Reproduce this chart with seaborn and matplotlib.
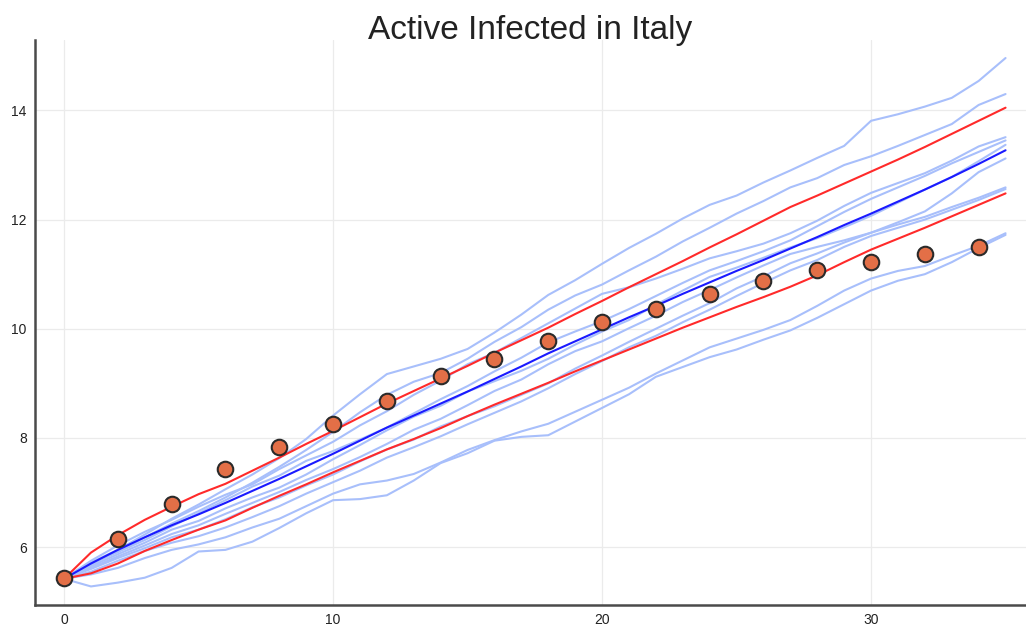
import matplotlib
matplotlib.use("Agg")
import matplotlib.pyplot as plt
import pandas as pd
import seaborn as sns

# Time axis (days) for the simulated trajectories and the model summary curves
days = list(range(36))

# Observed active infections (log scale) every second day
obs_days = list(range(0, 36, 2))
observed = [5.43, 6.15, 6.79, 7.43, 7.83, 8.25, 8.67, 9.13, 9.44, 9.77,
            10.12, 10.36, 10.63, 10.87, 11.07, 11.22, 11.37, 11.49]

# Ensemble mean and the upper / lower envelope
mean_curve = [5.42, 5.70, 5.95, 6.18, 6.40, 6.60, 6.81, 7.03, 7.25, 7.48,
              7.71, 7.95, 8.19, 8.41, 8.63, 8.85, 9.08, 9.31, 9.55, 9.77,
              9.99, 10.21, 10.42, 10.64, 10.85, 11.06, 11.26, 11.47, 11.68, 11.90,
              12.11, 12.33, 12.55, 12.78, 13.02, 13.27]
upper_curve = [5.42, 5.90, 6.22, 6.50, 6.74, 6.97, 7.16, 7.40, 7.64, 7.89,
               8.13, 8.38, 8.63, 8.86, 9.09, 9.32, 9.56, 9.79, 10.02, 10.27,
               10.51, 10.76, 11.00, 11.24, 11.49, 11.73, 11.98, 12.23, 12.44, 12.66,
               12.88, 13.10, 13.33, 13.57, 13.81, 14.05]
lower_curve = [5.42, 5.52, 5.70, 5.93, 6.13, 6.32, 6.49, 6.72, 6.94, 7.15,
               7.37, 7.58, 7.79, 7.98, 8.18, 8.40, 8.61, 8.81, 9.01, 9.22,
               9.42, 9.62, 9.82, 10.02, 10.21, 10.40, 10.58, 10.77, 10.98, 11.22,
               11.45, 11.65, 11.85, 12.06, 12.27, 12.48]

# Individual simulated trajectories
run_1 = [5.42, 5.72, 5.95, 6.23, 6.52, 6.78, 7.06, 7.33, 7.63, 7.98,
         8.41, 8.80, 9.17, 9.31, 9.45, 9.63, 9.93, 10.26, 10.62, 10.89,
         11.19, 11.48, 11.74, 12.02, 12.27, 12.44, 12.68, 12.90, 13.13, 13.35,
         13.81, 13.93, 14.07, 14.23, 14.54, 14.96]
run_2 = [5.42, 5.68, 5.92, 6.18, 6.43, 6.66, 6.91, 7.18, 7.47, 7.78,
         8.11, 8.47, 8.79, 9.03, 9.19, 9.45, 9.76, 10.03, 10.35, 10.61,
         10.81, 11.07, 11.32, 11.60, 11.85, 12.11, 12.34, 12.59, 12.76, 13.00,
         13.16, 13.35, 13.55, 13.75, 14.10, 14.30]
run_3 = [5.42, 5.75, 6.03, 6.28, 6.50, 6.74, 6.96, 7.15, 7.43, 7.68,
         7.93, 8.23, 8.49, 8.79, 9.05, 9.35, 9.56, 9.83, 10.10, 10.37,
         10.64, 10.76, 10.92, 11.10, 11.29, 11.42, 11.56, 11.75, 11.98, 12.25,
         12.49, 12.67, 12.85, 13.08, 13.34, 13.51]
run_4 = [5.42, 5.70, 5.91, 6.13, 6.38, 6.62, 6.86, 7.11, 7.31, 7.58,
         7.76, 7.97, 8.19, 8.45, 8.71, 8.95, 9.22, 9.47, 9.75, 9.95,
         10.14, 10.36, 10.60, 10.84, 11.07, 11.24, 11.42, 11.62, 11.88, 12.14,
         12.38, 12.59, 12.80, 13.03, 13.24, 13.45]
run_5 = [5.42, 5.62, 5.83, 6.03, 6.24, 6.40, 6.61, 6.81, 7.01, 7.23,
         7.43, 7.65, 7.89, 8.15, 8.35, 8.60, 8.86, 9.07, 9.35, 9.59,
         9.77, 10.01, 10.24, 10.49, 10.71, 10.94, 11.16, 11.37, 11.50, 11.62,
         11.76, 11.95, 12.15, 12.48, 12.87, 13.12]
run_6 = [5.42, 5.65, 5.87, 6.08, 6.32, 6.48, 6.71, 6.91, 7.09, 7.33,
         7.61, 7.87, 8.14, 8.39, 8.59, 8.85, 9.04, 9.23, 9.45, 9.71,
         9.95, 10.16, 10.44, 10.70, 10.95, 11.12, 11.30, 11.49, 11.66, 11.86,
         12.07, 12.31, 12.55, 12.78, 13.07, 13.37]
run_7 = [5.42, 5.60, 5.80, 5.98, 6.18, 6.32, 6.51, 6.73, 6.91, 7.13,
         7.33, 7.57, 7.79, 7.97, 8.21, 8.40, 8.58, 8.79, 9.00, 9.27,
         9.51, 9.76, 10.00, 10.24, 10.47, 10.74, 10.96, 11.20, 11.38, 11.58,
         11.76, 11.91, 12.05, 12.23, 12.40, 12.59]
run_8 = [5.42, 5.55, 5.75, 5.93, 6.08, 6.20, 6.36, 6.55, 6.75, 6.98,
         7.19, 7.40, 7.64, 7.83, 8.03, 8.25, 8.46, 8.67, 8.91, 9.17,
         9.41, 9.66, 9.87, 10.12, 10.35, 10.60, 10.84, 11.07, 11.26, 11.50,
         11.70, 11.85, 12.00, 12.18, 12.36, 12.56]
run_9 = [5.42, 5.50, 5.62, 5.80, 5.95, 6.05, 6.18, 6.36, 6.52, 6.75,
         6.98, 7.15, 7.22, 7.34, 7.55, 7.78, 7.96, 8.12, 8.26, 8.48,
         8.70, 8.92, 9.18, 9.42, 9.66, 9.82, 9.98, 10.16, 10.42, 10.70,
         10.92, 11.06, 11.15, 11.34, 11.52, 11.75]
run_10 = [5.42, 5.28, 5.35, 5.44, 5.62, 5.92, 5.95, 6.10, 6.35, 6.62,
          6.86, 6.88, 6.95, 7.22, 7.54, 7.72, 7.95, 8.02, 8.05, 8.30,
          8.55, 8.80, 9.12, 9.30, 9.48, 9.62, 9.80, 9.97, 10.20, 10.45,
          10.70, 10.88, 11.00, 11.22, 11.48, 11.72]
runs = [run_1, run_2, run_3, run_4, run_5, run_6, run_7, run_8, run_9, run_10]

title = "Active Infected in Italy"
x_ticks = [0, 10, 20, 30]
y_ticks = [6, 8, 10, 12, 14]

# Long-format table of trajectories for seaborn
paths = pd.DataFrame(
    [(k, d, v) for k, run in enumerate(runs) for d, v in zip(days, run)],
    columns=["run", "day", "value"],
)

sns.set_theme(style="white")
plt.rcParams["font.family"] = ["Liberation Sans", "DejaVu Sans"]

fig = plt.figure(figsize=(10.26, 6.37), dpi=100)
ax = fig.add_axes([35 / 1026, 1 - 605 / 637, (1026 - 35) / 1026, (605 - 40) / 637])

sns.lineplot(data=paths, x="day", y="value", units="run", estimator=None,
             color="#a8bffb", lw=1.5, ax=ax, legend=False, zorder=1)
sns.lineplot(x=days, y=mean_curve, color="#1a1aff", lw=1.5, ax=ax, zorder=3)
sns.lineplot(x=days, y=upper_curve, color="#ff2a2a", lw=1.5, ax=ax, zorder=3)
sns.lineplot(x=days, y=lower_curve, color="#ff2a2a", lw=1.5, ax=ax, zorder=3)
sns.scatterplot(x=obs_days, y=observed, s=125, color="#e36f47",
                edgecolor="#2a2a2a", linewidth=1.5, ax=ax, zorder=5)

ax.set_xlim(-1.08, 35.76)
ax.set_ylim(4.94, 15.29)
ax.set_xticks(x_ticks)
ax.set_yticks(y_ticks)
ax.set_xlabel("")
ax.set_ylabel("")

ax.grid(True, color="#ebebeb", lw=0.9)
ax.set_axisbelow(True)
for side in ("top", "right"):
    ax.spines[side].set_visible(False)
for side in ("left", "bottom"):
    ax.spines[side].set_color("#4a4a4a")
    ax.spines[side].set_linewidth(1.8)
ax.tick_params(direction="in", length=6, width=1.2, color="#4a4a4a",
               labelsize=10, labelcolor="#222222", pad=6)

ax.set_title(title, fontsize=24, color="#222222", pad=1)

fig.savefig("out.png", dpi=100)
